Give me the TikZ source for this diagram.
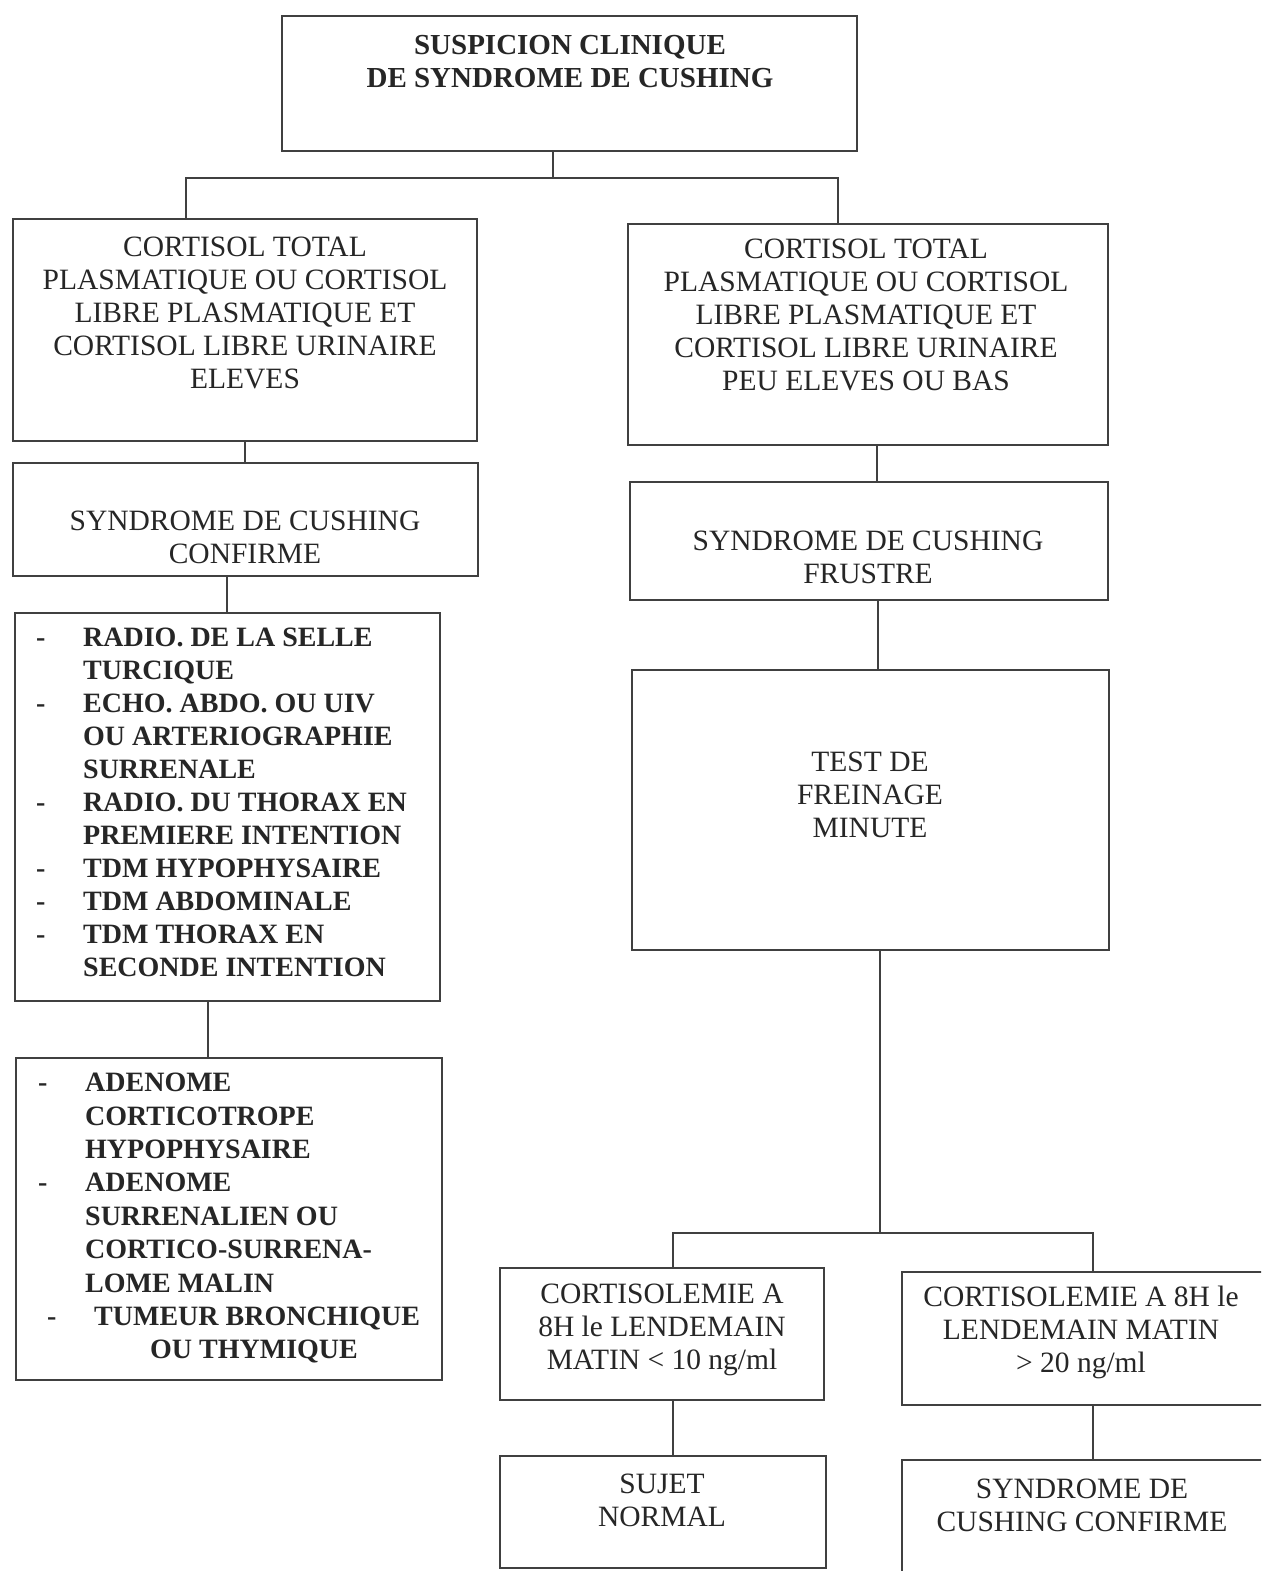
\documentclass[tikz,border=0pt]{standalone}
\usepackage{fontspec}
\setmainfont{Liberation Serif}
\newcommand\lidash{\makebox[47pt][l]{-}}
\newcommand\liind{\hspace*{47pt}}
\newcommand\cbox[5]{\node[box,minimum width={(#4)-(#2)},minimum height={(#5)-(#3)}] (#1) at ({((#2)+(#4))/2},{((#3)+(#5))/2}) {};}
\begin{document}
\begin{tikzpicture}[x=1pt,y=-1pt,
  box/.style={draw=black!75,line width=2pt,rectangle,inner sep=0pt},
  txt/.style={align=center,font=\fontsize{29.5}{33}\selectfont,text=black!85,inner sep=0pt},
  btxt/.style={align=center,font=\fontsize{29}{33}\selectfont\bfseries,text=black!85,inner sep=0pt},
  ltxt/.style={align=left,font=\fontsize{28}{33}\selectfont\bfseries,text=black!85,inner sep=0pt,anchor=north west},
  conn/.style={draw=black!75,line width=1.8pt}]
\useasboundingbox (0,0) rectangle (1261,1571);
\clip (0,0) rectangle (1261,1571);
\fill[white] (0,0) rectangle (1261,1571);

% boxes
\cbox{top}{282}{16}{857}{151}
\cbox{L1}{13}{219}{477}{441}
\cbox{R1}{628}{224}{1108}{445}
\cbox{L2}{13}{463}{478}{576}
\cbox{L3}{15}{613}{440}{1001}
\cbox{L4}{16}{1058}{442}{1380}
\cbox{R2}{630}{482}{1108}{600}
\cbox{R3}{632}{670}{1109}{950}
\cbox{CL}{500}{1268}{824}{1400}
\cbox{CR}{902}{1272}{1290}{1405}
\cbox{NL}{500}{1456}{826}{1568}
\cbox{NR}{902}{1460}{1290}{1580}

% texts
\node[btxt] (topt) at (570,62) {SUSPICION CLINIQUE\\DE SYNDROME DE CUSHING};
\node[txt] (L1t) at (245,313) {CORTISOL TOTAL\\PLASMATIQUE OU CORTISOL\\LIBRE PLASMATIQUE ET\\CORTISOL LIBRE URINAIRE\\ELEVES};
\node[txt] (R1t) at (866,315) {CORTISOL TOTAL\\PLASMATIQUE OU CORTISOL\\LIBRE PLASMATIQUE ET\\CORTISOL LIBRE URINAIRE\\PEU ELEVES OU BAS};
\node[txt] (L2t) at (245,537) {SYNDROME DE CUSHING\\CONFIRME};
\node[txt] (R2t) at (868,557) {SYNDROME DE CUSHING\\FRUSTRE};
\node[txt] (R3t) at (870,795) {TEST DE\\FREINAGE\\MINUTE};
\node[txt] (CLt) at (662,1330) {CORTISOLEMIE A\\8H le LENDEMAIN\\MATIN < 10 ng/ml};
\node[txt] (CRt) at (1081,1332) {CORTISOLEMIE A 8H le\\LENDEMAIN MATIN\\> 20 ng/ml};
\node[txt] (NLt) at (662,1500) {SUJET\\NORMAL};
\node[txt] (NRt) at (1082,1505) {SYNDROME DE\\CUSHING CONFIRME};

\node[ltxt] (L3t) at (36,628) {\lidash RADIO. DE LA SELLE\\\liind TURCIQUE\\\lidash ECHO. ABDO. OU UIV\\\liind OU ARTERIOGRAPHIE\\\liind SURRENALE\\\lidash RADIO. DU THORAX EN\\\liind PREMIERE INTENTION\\\lidash TDM HYPOPHYSAIRE\\\lidash TDM ABDOMINALE\\\lidash TDM THORAX EN\\\liind SECONDE INTENTION};
\node[ltxt,font=\fontsize{28}{33.4}\selectfont\bfseries] (L4t) at (38,1073) {\lidash ADENOME\\\liind CORTICOTROPE\\\liind HYPOPHYSAIRE\\\lidash ADENOME\\\liind SURRENALIEN OU\\\liind CORTICO-SURRENA-\\\liind LOME MALIN\\\hspace*{9pt}\lidash TUMEUR BRONCHIQUE\\\hspace*{112pt}OU THYMIQUE};

% connector coordinates
\coordinate (j1) at (553,178);
\coordinate (bl) at (186,178);
\coordinate (br) at (838,178);
\coordinate (xa) at (245,0);
\coordinate (xb) at (227,0);
\coordinate (xc) at (208,0);
\coordinate (xd) at (877,0);
\coordinate (xe) at (878,0);
\coordinate (j2) at (880,1233);
\coordinate (cl) at (673,1233);
\coordinate (cr) at (1093,1233);

\draw[conn] (j1 |- top.south) -- (j1);
\draw[conn] (bl |- L1.north) -- (bl) -- (br) -- (br |- R1.north);
\draw[conn] (xa |- L1.south) -- (xa |- L2.north);
\draw[conn] (xb |- L2.south) -- (xb |- L3.north);
\draw[conn] (xc |- L3.south) -- (xc |- L4.north);
\draw[conn] (xd |- R1.south) -- (xd |- R2.north);
\draw[conn] (xe |- R2.south) -- (xe |- R3.north);
\draw[conn] (j2 |- R3.south) -- (j2);
\draw[conn] (cl |- CL.north) -- (cl) -- (cr) -- (cr |- CR.north);
\draw[conn] (cl |- CL.south) -- (cl |- NL.north);
\draw[conn] (cr |- CR.south) -- (cr |- NR.north);
\end{tikzpicture}
\end{document}
